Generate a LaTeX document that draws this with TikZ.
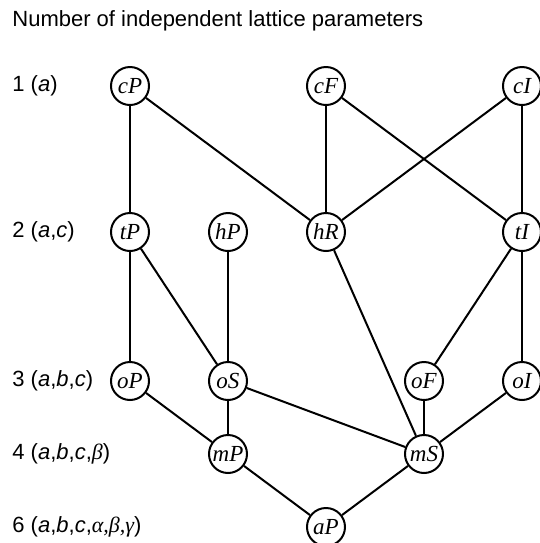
\documentclass[tikz,border=0pt]{standalone}
\usepackage{fontspec}
\setmainfont{Liberation Sans}
\newfontfamily\latfont{Liberation Serif}
\begin{document}
\begin{tikzpicture}[x=0.5pt,y=-0.5pt,
	lat/.style={draw,circle,line width=1pt,fill=white,minimum size=19pt,inner sep=0pt,
		font=\latfont\itshape\fontsize{11.5}{13}\selectfont},
	rowlabel/.style={anchor=west,inner sep=0pt,font=\fontsize{11}{13}\selectfont},
	link/.style={line width=1pt}]
	\useasboundingbox (0,0) rectangle (540,543);
	%\draw[lightgray] (0,0) grid[step=49] (540,543);
	\node[rowlabel] (title) at (12,21) {Number of independent lattice parameters};

	\node[rowlabel] (r1) at (12,86) {1 (\textit{a})};
	\node[rowlabel] (r2) at (12,232) {2 (\textit{a},\textit{c})};
	\node[rowlabel] (r3) at (12,381) {3 (\textit{a},\textit{b},\textit{c})};
	\node[rowlabel] (r4) at (12,454) {4 (\textit{a},\textit{b},\textit{c},{\latfont\itshape β})};
	\node[rowlabel] (r6) at (12,527) {6 (\textit{a},\textit{b},\textit{c},{\latfont\itshape α,β,γ})};

	\node[lat] (cP) at (130,86) {cP};
	\node[lat] (cF) at (326,86) {cF};
	\node[lat] (cI) at (522,86) {cI};
	\node[lat] (tP) at (130,232) {tP};
	\node[lat] (hP) at (228,232) {hP};
	\node[lat] (hR) at (326,232) {hR};
	\node[lat] (tI) at (522,232) {tI};
	\node[lat] (oP) at (130,381) {oP};
	\node[lat] (oS) at (228,381) {oS};
	\node[lat] (oF) at (424,381) {oF};
	\node[lat] (oI) at (522,381) {oI};
	\node[lat] (mP) at (228,454) {mP};
	\node[lat] (mS) at (424,454) {mS};
	\node[lat] (aP) at (326,527) {aP};

	\draw[link] (cP) -- (tP);
	\draw[link] (cP) -- (hR);
	\draw[link] (cF) -- (hR);
	\draw[link] (cF) -- (tI);
	\draw[link] (cI) -- (hR);
	\draw[link] (cI) -- (tI);
	\draw[link] (tP) -- (oP);
	\draw[link] (tP) -- (oS);
	\draw[link] (hP) -- (oS);
	\draw[link] (hR) -- (mS);
	\draw[link] (tI) -- (oF);
	\draw[link] (tI) -- (oI);
	\draw[link] (oP) -- (mP);
	\draw[link] (oS) -- (mP);
	\draw[link] (oS) -- (mS);
	\draw[link] (oF) -- (mS);
	\draw[link] (oI) -- (mS);
	\draw[link] (mP) -- (aP);
	\draw[link] (mS) -- (aP);
\end{tikzpicture}
\end{document}
